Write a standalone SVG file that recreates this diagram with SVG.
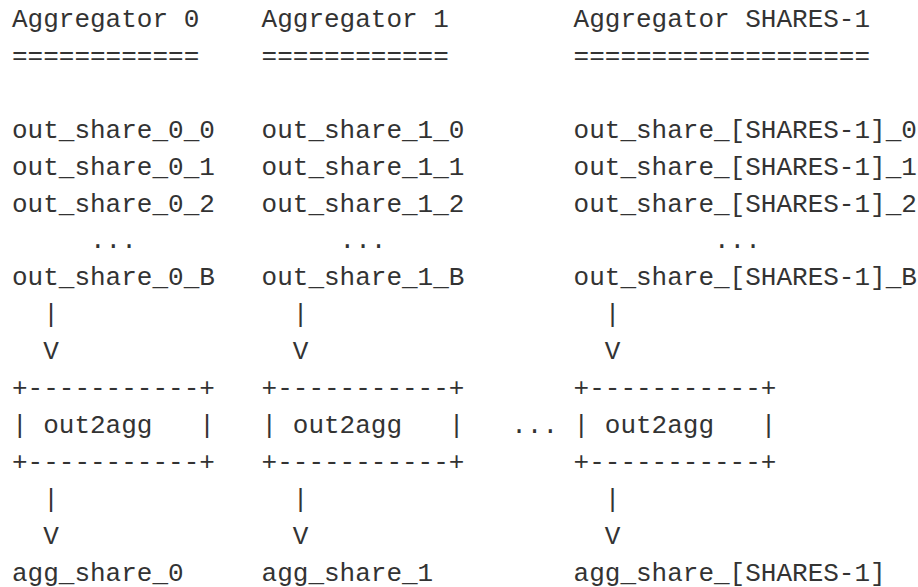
<svg xmlns="http://www.w3.org/2000/svg" width="918" height="587" viewBox="0 0 918 587">
<style>
text{font-family:"Liberation Mono","DejaVu Sans Mono",monospace;font-size:26px;fill:#333;white-space:pre}
</style>
<rect width="918" height="587" fill="#fff"/>
<g id="agg0-header"><text x="12" y="27">Aggregator 0</text><text x="12" y="63.9">============</text></g>
<g id="agg1-header"><text x="261.6" y="27">Aggregator 1</text><text x="261.6" y="63.9">============</text></g>
<g id="aggN-header"><text x="573.6" y="27">Aggregator SHARES-1</text><text x="573.6" y="63.9">===================</text></g>
<g id="shares0">
<text x="12" y="137.7">out_share_0_0</text>
<text x="12" y="174.6">out_share_0_1</text>
<text x="12" y="211.5">out_share_0_2</text>
<text x="90" y="248.4">...</text>
<text x="12" y="285.3">out_share_0_B</text>
</g>
<g id="shares1">
<text x="261.6" y="137.7">out_share_1_0</text>
<text x="261.6" y="174.6">out_share_1_1</text>
<text x="261.6" y="211.5">out_share_1_2</text>
<text x="339.6" y="248.4">...</text>
<text x="261.6" y="285.3">out_share_1_B</text>
</g>
<g id="sharesN">
<text x="573.6" y="137.7">out_share_[SHARES-1]_0</text>
<text x="573.6" y="174.6">out_share_[SHARES-1]_1</text>
<text x="573.6" y="211.5">out_share_[SHARES-1]_2</text>
<text x="714" y="248.4">...</text>
<text x="573.6" y="285.3">out_share_[SHARES-1]_B</text>
</g>
<g id="box0">
<text x="12" y="396">+-----------+</text>
<text x="12" y="432.9">| out2agg   |</text>
<text x="12" y="469.8">+-----------+</text>
</g>
<g id="box1">
<text x="261.6" y="396">+-----------+</text>
<text x="261.6" y="432.9">| out2agg   |</text>
<text x="261.6" y="469.8">+-----------+</text>
</g>
<g id="boxN">
<text x="511.2" y="432.9">...</text>
<text x="573.6" y="396">+-----------+</text>
<text x="573.6" y="432.9">| out2agg   |</text>
<text x="573.6" y="469.8">+-----------+</text>
</g>
<g id="out0"><text x="12" y="580.5">agg_share_0</text></g>
<g id="out1"><text x="261.6" y="580.5">agg_share_1</text></g>
<g id="outN"><text x="573.6" y="580.5">agg_share_[SHARES-1]</text></g>
<g id="connectors">
<text x="43.2" y="322.2">|</text><text x="43.2" y="359.1">V</text>
<text x="292.8" y="322.2">|</text><text x="292.8" y="359.1">V</text>
<text x="604.8" y="322.2">|</text><text x="604.8" y="359.1">V</text>
<text x="43.2" y="506.7">|</text><text x="43.2" y="543.6">V</text>
<text x="292.8" y="506.7">|</text><text x="292.8" y="543.6">V</text>
<text x="604.8" y="506.7">|</text><text x="604.8" y="543.6">V</text>
</g>
</svg>
